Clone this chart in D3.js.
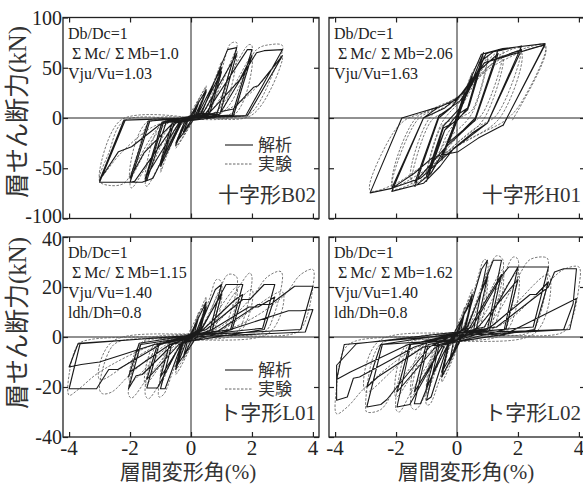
<!DOCTYPE html>
<html><head><meta charset="utf-8">
<script src="https://cdn.jsdelivr.net/npm/d3@7"></script>
<style>body{margin:0;background:#fff}svg{display:block}</style>
</head><body><svg id="c" width="583" height="484"></svg>
<script>
// ---------- data ----------
const xTicks = [-4, -2, 0, 2, 4];
const yTicksTop = [-100, -50, 0, 50, 100];
const yTicksBot = [-40, -20, 0, 20, 40];
const panelNames = ["十字形B02", "十字形H01", "ト字形L01", "ト字形L02"];
const noteDb = ["Db/Dc=1", "Db/Dc=1", "Db/Dc=1", "Db/Dc=1"];
const noteMcMb = ["1.0", "2.06", "1.15", "1.62"];
const noteVju = ["Vju/Vu=1.03", "Vju/Vu=1.63", "Vju/Vu=1.40", "Vju/Vu=1.40"];
const noteLdh = [null, null, "ldh/Dh=0.8", "ldh/Dh=0.8"];
const legendLabels = ["解析", "実験"];
const yTitle = "層せん断力(kN)";
const xTitle = "層間変形角(%)";

// analysis (solid) and experiment (dashed) hysteresis paths: [drift %, shear kN]
const b02Ana = [[0,0],[0.25,15],[0.08,1],[-0.25,-14],[-0.08,-1],
[0.5,28],[0.2,3],[-0.1,0],[-0.5,-27],[-0.2,-3],[0.1,0],
[0.5,26],[0.2,3],[-0.5,-25],[-0.2,-3],
[0.25,5],[1.0,50],[0.55,4],[0,1],[-0.3,-4],[-1.0,-48],[-0.55,-4],[0,-1],
[0.3,4],[1.0,46],[0.6,3],[-0.35,-4],[-1.0,-44],[-0.6,-3],
[0.35,5],[1.2,68],[1.5,70],[0.85,4],[0,1],[-0.35,-5],[-1.25,-60],[-1.5,-63],[-0.9,-4],[0,-1],
[0.4,5],[1.5,64],[0.95,4],[-0.4,-5],[-1.5,-60],[-0.95,-4],
[0.5,5],[1.85,68],[2.0,68],[1.35,3],[0,1],[-0.5,-5],[-1.85,-63],[-2.0,-64],[-1.35,-3],[0,0],
[0.6,5],[1.6,38],[2.0,62],[1.4,3],[-0.6,-5],[-1.55,-35],[-2.0,-60],[-1.4,-3],
[0.9,2],[2.15,65],[2.4,67],[3.0,68],[1.8,2.5],[0,1],[-0.8,-3],[-1.45,-62],[-1.6,-64],[-3.0,-64],[-2.16,-2.3],[0,0],
[1.39,9],[2.05,30.5],[2.2,32],[3.0,62],[1.85,2],[0,0],[-1.0,-6],[-1.95,-28.6],[-2.38,-33.5],[-3.0,-62],[-2.2,-2],[0,0]];
const b02Exp = [[0,0],[0.25,18],[0.05,1],[-0.25,-17],[-0.05,-1],
[0.5,32],[0.15,3],[-0.5,-30],[-0.15,-3],
[0.5,30],[0.15,2],[-0.5,-28],[-0.15,-2],
[0.3,6],[0.8,40],[1.0,56],[0.7,20],[0.45,3],[0,0],[-0.3,-6],[-0.8,-38],[-1.0,-54],[-0.7,-18],[-0.45,-3],[0,0],
[0.4,6],[1.0,50],[0.55,4],[-0.4,-6],[-1.0,-48],[-0.55,-4],
[0.4,6],[1.0,48],[1.3,74],[1.5,75],[1.2,40],[0.85,6],[0,0],[-0.4,-7],[-1.1,-50],[-1.45,-68],[-1.5,-66],[-1.2,-35],[-0.9,-5],[0,0],
[0.5,6],[1.5,68],[0.95,5],[-0.5,-6],[-1.5,-62],[-0.95,-5],
[0.6,6],[1.5,55],[1.9,73],[2.0,72],[1.7,35],[1.35,5],[0,0],[-0.6,-6],[-1.5,-50],[-1.95,-69.6],[-2.0,-67],[-1.7,-30],[-1.35,-4],[0,0],
[0.8,6],[2.0,62],[1.45,4],[-0.8,-6],[-2.0,-60],[-1.45,-4],
[1.0,5],[2.15,68],[2.6,73],[3.0,72],[2.7,45],[2.0,6],[1.5,1],[0,0],[-0.9,-5],[-1.8,-45],[-2.2,-65],[-2.7,-67],[-3.0,-63],[-2.7,-35],[-2.2,-3],[0,0],
[1.3,10],[2.2,32],[3.0,60],[2.0,3],[0,0],[-1.2,-8],[-2.3,-35],[-3.0,-60],[-2.3,-2],[0,0]];

const h01Ana = [[0,0],[0.25,25],[0,3],[-0.25,-22],[0,-3],
[0.5,42],[0.1,8],[-0.5,-40],[-0.1,-8],
[0.5,40],[0.1,8],[-0.5,-38],[-0.1,-8],
[0.87,65],[0.35,10],[0,3],[-0.4,-12],[-1.0,-63],[-0.45,-10],[0,-3],
[0.4,12],[0.87,60],[0.35,8],[-0.4,-12],[-1.0,-58],[-0.45,-8],
[0.1,10],[0.6,40],[0.95,64],[1.35,68],[0.6,0],[0.2,-12],[-0.3,-25],[-0.85,-55],[-1.38,-68],[-0.6,0],[-0.2,10],
[0.65,45],[1.35,64],[0.6,-2],[-0.4,-30],[-1.38,-64],[-0.6,2],
[0.1,17],[0.5,35],[0.85,58],[1.2,66],[2.12,71.6],[1.0,-5],[0.5,-15],[-0.1,-30],[-0.55,-48],[-1.1,-65],[-2.14,-73],[-1.1,0],[-0.4,10],
[0.2,25],[0.9,55],[2.12,68],[1.0,-5],[-0.2,-33],[-1.2,-60],[-2.14,-70],[-1.1,0],
[-0.61,10.8],[-0.07,17.4],[0.32,30],[0.8,63.4],[1.5,69],[2.89,74],[1.52,-7],[0.7,-20],[0.04,-33.5],[-0.77,-38.4],[-1.4,-55],[-2.14,-70],[-2.85,-74.5],[-1.81,0],[-1.16,5.9],[-0.61,10.8],[-0.07,17.4],[0.32,30],[0.9,55],[2.89,73],[1.5,-8]];
const h01Exp = [[0,0],[0.25,28],[0.05,4],[-0.25,-25],[-0.05,-4],
[0.5,45],[0.1,10],[-0.5,-43],[-0.1,-10],
[0.5,42],[0.1,9],[-0.5,-40],[-0.1,-9],
[0.5,45],[0.9,62],[1.0,64],[0.5,8],[0.1,0],[-0.3,-15],[-0.8,-52],[-1.0,-60],[-0.5,-8],[-0.1,0],
[0.4,25],[1.0,60],[0.5,5],[-0.4,-25],[-1.0,-57],[-0.5,-5],
[0.2,20],[0.8,50],[1.35,66],[1.5,67],[0.85,5],[0.3,-10],[-0.3,-30],[-0.9,-55],[-1.45,-66],[-1.5,-65],[-0.85,-3],[-0.3,8],
[0.4,30],[1.5,62],[0.9,0],[0,-25],[-1.5,-62],[-0.9,0],
[0,18],[0.5,35],[1.1,57],[2.0,70],[2.1,69],[1.3,3],[0.6,-10],[0,-25],[-0.6,-42],[-1.3,-62],[-2.0,-71],[-2.14,-70],[-1.3,-2],[-0.6,10],
[0.2,25],[1.0,50],[2.1,66],[1.4,0],[0,-28],[-1.2,-55],[-2.1,-67],[-1.4,-2],
[-0.6,12],[0,20],[0.5,35],[1.2,55],[2.3,70],[2.9,72.5],[2.1,15],[1.6,-2],[0.8,-15],[0,-28],[-1.0,-45],[-2.0,-65],[-2.85,-72],[-2.2,-20],[-1.7,-2],[-1.0,6],[-0.5,12],[0.2,25],[1.2,52],[2.9,70],[1.8,-3]];

const l01Ana = [[0,0],[0.25,8],[0.1,1],[-0.25,-8],[-0.1,-1],
[0.5,14],[0.25,2],[-0.1,0],[-0.5,-13],[-0.25,-2],[0.1,0],
[0.5,12],[0.28,1.5],[-0.5,-12],[-0.28,-1.5],
[0.25,3],[0.8,19],[1.0,21],[0.62,2.5],[0,0.5],[-0.3,-2.5],[-0.85,-20.7],[-1.0,-20.7],[-0.62,-2.5],[0,-0.5],
[0.3,2.5],[1.0,17],[0.68,2],[-0.3,-2.5],[-1.0,-16],[-0.68,-2],
[0.35,3],[1.15,21],[1.7,21],[1.3,3],[0,0.5],[-0.35,-3],[-1.1,-20.4],[-1.45,-20.4],[-1.05,-3],[0,-0.3],
[0.4,3],[1.45,15],[1.7,17],[1.35,3],[-0.4,-3],[-1.45,-17],[-1.1,-3],
[0.5,3],[1.7,15],[1.93,15],[2.4,21],[2.75,21],[2.35,3.5],[0,0.5],[-0.6,-3],[-1.6,-15],[-1.8,-15.5],[-2.05,-20.7],[-1.65,-3],[0,0],
[0.7,3],[1.9,12],[2.2,12],[2.75,16],[2.4,3],[-0.7,-3],[-2.0,-14],[-2.05,-16],[-1.7,-2.5],
[0.9,2.5],[2.2,13],[2.6,13],[3.4,20.3],[4.0,20.3],[3.6,3],[0,0.7],[-1.0,-3],[-2.4,-13],[-2.7,-13],[-3.1,-20.7],[-4.0,-20.7],[-3.64,-2.7],[0,0.7],
[1.3,3],[3.2,10.5],[3.6,10.5],[4.0,11],[3.75,2],[0,0],[-1.2,-3],[-3.0,-10],[-3.6,-11],[-4.0,-12],[-3.7,-2.5],[0,0.5]];
const l01Exp = [[0,0],[0.25,10],[0.05,1],[-0.25,-9],[-0.05,-1],
[0.5,16],[0.2,2],[-0.5,-15],[-0.2,-2],
[0.5,14],[0.2,1.5],[-0.5,-13],[-0.2,-1.5],
[0.2,3],[0.6,15],[0.84,23],[1.0,22],[0.8,8],[0.6,2],[0,0.3],[-0.25,-3],[-0.6,-14],[-0.9,-23],[-1.05,-24],[-0.85,-8],[-0.6,-2],[0,-0.3],
[0.3,3],[1.0,19],[0.7,2],[-0.3,-3],[-1.0,-19],[-0.7,-2],
[0.3,3],[0.9,18],[1.22,25],[1.5,24],[1.25,8],[1.0,2],[0,0.3],[-0.35,-3],[-1.0,-18],[-1.4,-24.7],[-1.5,-23],[-1.3,-8],[-1.05,-2],[0,0],
[0.4,3],[1.5,20],[1.1,2],[-0.4,-3],[-1.5,-19],[-1.15,-2],
[0.5,3],[1.4,17],[1.93,25.6],[2.0,24],[1.75,8],[1.5,2],[0,0.3],[-0.5,-3],[-1.4,-16],[-1.95,-24.4],[-2.05,-23],[-1.8,-8],[-1.55,-2],[0,0],
[0.6,3],[2.0,19],[1.6,2],[-0.6,-3],[-2.0,-18],[-1.6,-2],
[0.8,3],[2.0,16],[2.5,24],[2.92,26.3],[3.0,25],[2.7,8],[2.4,2],[0,0.5],[-0.8,-3],[-2.0,-15],[-2.6,-22],[-2.9,-22.7],[-3.0,-21],[-2.7,-6],[-2.4,-2],[0,0],
[1.0,3],[3.0,18],[2.6,2],[-1.0,-3],[-3.0,-17],[-2.6,-2],
[1.2,3],[3.0,16],[3.6,25],[4.0,27],[4.0,20],[3.7,5],[3.4,1.5],[0,0.3],[-1.2,-3],[-3.0,-14],[-3.7,-21],[-4.0,-23.3],[-4.0,-15],[-3.7,-3],[-3.3,-1],[0,0]];

const l02Ana = [[0,0],[0.25,10],[0.1,1],[-0.25,-10],[-0.1,-1],
[0.5,17],[0.25,2],[-0.5,-16],[-0.25,-2],
[0.5,15],[0.25,2],[-0.5,-14],[-0.25,-2],
[0.25,4],[0.8,27],[1.0,30.7],[0.55,3],[0,1],[-0.3,-3],[-0.85,-24],[-1.0,-25.3],[-0.58,-3],[0,-1],
[0.3,3],[1.0,24],[0.62,2.5],[-0.3,-3],[-1.0,-20],[-0.62,-2.5],
[0.35,4],[1.19,30.7],[1.46,30.7],[1.0,3],[0,1.5],[-0.4,-3],[-1.2,-26.7],[-1.4,-26.7],[-0.95,-3],[0,-1],
[0.4,3.5],[1.46,25],[1.05,2.5],[-0.45,-3],[-1.4,-22],[-1.0,-2.5],
[0.5,4],[1.5,25],[1.7,28],[2.0,28],[1.55,3],[0,1.5],[-0.5,-4],[-1.55,-27],[-1.97,-28],[-1.52,-3],[0,-1],
[0.7,4],[2.0,23],[1.6,3],[-0.7,-4],[-1.97,-22],[-1.55,-3],
[0.9,4],[2.0,28],[3.0,28],[2.5,4],[0,1.5],[-0.9,-4],[-2.3,-25],[-2.5,-27],[-2.96,-28],[-2.45,-3],[0,-1],
[1.1,4],[2.4,17],[2.6,17],[3.0,22],[2.55,3],[-1.1,-4],[-2.6,-16],[-2.96,-20],[-2.5,-3],
[1.3,4],[3.0,20],[3.2,26],[3.5,27.3],[3.92,27.3],[3.81,13.3],[3.5,3],[0,1.5],[-1.4,-4],[-3.2,-16],[-3.4,-16.5],[-3.6,-24],[-3.95,-25.3],[-3.95,-11.3],[-3.3,-2.7],[0,2],
[1.52,0.7],[3.92,15.4],[3.7,3],[0,0.5],[-1.6,-3],[-3.5,-14],[-3.95,-17],[-3.7,-3],[0,1]];
const l02Exp = [[0,0],[0.25,12],[0.05,1],[-0.25,-11],[-0.05,-1],
[0.5,19],[0.2,2],[-0.5,-18],[-0.2,-2],
[0.5,17],[0.2,2],[-0.5,-16],[-0.2,-2],
[0.2,4],[0.6,20],[0.9,31],[1.0,30],[0.8,10],[0.55,2],[0,0.5],[-0.25,-4],[-0.6,-18],[-0.9,-27],[-1.0,-27],[-0.8,-8],[-0.55,-2],[0,-0.5],
[0.3,4],[1.0,26],[0.65,2],[-0.3,-4],[-1.0,-23],[-0.65,-2],
[0.35,4],[1.0,26],[1.3,32.5],[1.5,31],[1.25,10],[1.0,2],[0,0.5],[-0.4,-4],[-1.0,-22],[-1.35,-29],[-1.5,-28],[-1.25,-8],[-1.0,-2],[0,-0.5],
[0.45,4],[1.5,27],[1.1,2],[-0.45,-4],[-1.5,-24],[-1.1,-2],
[0.55,4],[1.5,24],[1.85,32],[2.0,31],[1.75,10],[1.5,2],[0,0.5],[-0.55,-4],[-1.5,-22],[-1.9,-30],[-2.0,-29],[-1.75,-8],[-1.5,-2],[0,-0.5],
[0.7,4],[2.0,26],[1.6,2],[-0.7,-4],[-2.0,-24],[-1.6,-2],
[0.9,4],[2.0,24],[2.4,31],[2.94,31.7],[3.0,30],[2.75,10],[2.4,2],[0,0.5],[-0.9,-4],[-2.0,-20],[-2.5,-29],[-2.96,-30],[-3.0,-28],[-2.75,-8],[-2.4,-2],[0,-0.5],
[1.1,4],[3.0,25],[2.6,2],[-1.1,-4],[-3.0,-22],[-2.6,-2],
[1.3,4],[3.0,22],[3.5,27],[4.0,28],[4.0,20],[3.7,5],[3.4,1.5],[0,0.5],[-1.3,-4],[-3.0,-20],[-3.6,-28],[-3.95,-30.7],[-3.95,-20],[-3.7,-5],[-3.3,-1.5],[0,0]];

const anaSeries = [b02Ana, h01Ana, l01Ana, l02Ana];
const expSeries = [b02Exp, h01Exp, l01Exp, l02Exp];

// ---------- drawing ----------
const svg = d3.select("#c");
const SERIF = "Liberation Serif, Tinos, DejaVu Serif, serif";
const JP = "Liberation Serif, Noto Sans CJK JP, serif";
const ink = "#222";

const cols = [[63, 319], [329, 585]];
const rows = [[17.5, 218.5], [237, 437]];
const xDomain = [-4.2, 4.2];
const yDomains = [[-100, 100], [-40, 40]];
const yTickSets = [yTicksTop, yTicksBot];

panelNames.forEach((name, i) => {
  const r = Math.floor(i / 2), c = i % 2;
  const x = d3.scaleLinear().domain(xDomain).range(cols[c]);
  const y = d3.scaleLinear().domain(yDomains[r]).range([rows[r][1], rows[r][0]]);
  const g = svg.append("g");
  const cid = "clip" + i;
  svg.append("clipPath").attr("id", cid).append("rect")
    .attr("x", cols[c][0]).attr("y", rows[r][0])
    .attr("width", cols[c][1] - cols[c][0]).attr("height", rows[r][1] - rows[r][0]);

  g.append("line").attr("x1", x(xDomain[0])).attr("x2", x(xDomain[1]))
    .attr("y1", y(0)).attr("y2", y(0)).attr("stroke", ink).attr("stroke-width", 1);
  g.append("line").attr("x1", x(0)).attr("x2", x(0))
    .attr("y1", rows[r][0]).attr("y2", rows[r][1]).attr("stroke", ink).attr("stroke-width", 1);

  const lineGen = d3.line().x(d => x(d[0])).y(d => y(d[1]));
  const curveGen = d3.line().x(d => x(d[0])).y(d => y(d[1])).curve(d3.curveCatmullRom.alpha(0.5));
  const pg = g.append("g").attr("clip-path", `url(#${cid})`);
  pg.append("path").datum(expSeries[i]).attr("d", curveGen).attr("fill", "none")
    .attr("stroke", "#555").attr("stroke-width", 0.8).attr("stroke-dasharray", "2.5,1.5");
  pg.append("path").datum(anaSeries[i]).attr("d", lineGen).attr("fill", "none")
    .attr("stroke", "#1a1a1a").attr("stroke-width", 1.1).attr("stroke-linejoin", "round");

  g.append("rect").attr("x", cols[c][0]).attr("y", rows[r][0])
    .attr("width", cols[c][1] - cols[c][0]).attr("height", rows[r][1] - rows[r][0])
    .attr("fill", "none").attr("stroke", ink).attr("stroke-width", 1.3);

  const tl = 5;
  const axB = g.append("g").attr("transform", `translate(0,${rows[r][1]})`)
    .call(d3.axisTop(x).tickValues(xTicks).tickSize(tl).tickFormat(""));
  const axT = g.append("g").attr("transform", `translate(0,${rows[r][0]})`)
    .call(d3.axisBottom(x).tickValues(xTicks).tickSize(tl).tickFormat(""));
  const axL = g.append("g").attr("transform", `translate(${cols[c][0]},0)`)
    .call(d3.axisRight(y).tickValues(yTickSets[r]).tickSize(tl).tickFormat(""));
  const axR = g.append("g").attr("transform", `translate(${cols[c][1]},0)`)
    .call(d3.axisLeft(y).tickValues(yTickSets[r]).tickSize(tl).tickFormat(""));
  [axB, axT, axL, axR].forEach(a => {
    a.select(".domain").remove();
    a.selectAll(".tick text").remove();
    a.selectAll(".tick line").attr("stroke", ink).attr("stroke-width", 1.2);
  });
  if (r === 1) {
    xTicks.forEach(t => {
      g.append("text").attr("x", x(t)).attr("y", 455).attr("text-anchor", "middle")
        .style("font-family", SERIF).attr("font-size", 21).attr("fill", ink).text(t);
    });
  }
  if (c === 0) {
    const ymax = yDomains[r][1], ymin = yDomains[r][0];
    yTickSets[r].forEach(t => {
      const off = (r === 0 && t === ymin) ? 4.5 : (r === 1 && t === ymax) ? 9 : 7;
      g.append("text").attr("x", cols[0][0] - 1).attr("y", y(t) + off).attr("text-anchor", "end")
        .style("font-family", SERIF).attr("font-size", 20).attr("fill", ink).text(t);
    });
  }

  const nx = cols[c][0] + 5, ny = rows[r][0] + 21;
  const nt = g.append("g").style("font-family", SERIF).attr("font-size", 16).attr("fill", ink);
  nt.append("text").attr("x", nx).attr("y", ny).text(noteDb[i]);
  const t2 = nt.append("text").attr("x", nx + 4).attr("y", ny + 20);
  t2.append("tspan").text("Σ");
  t2.append("tspan").attr("dx", 3).text("Mc/");
  t2.append("tspan").attr("dx", 5).text("Σ");
  t2.append("tspan").attr("dx", 3).text("Mb=" + noteMcMb[i]);
  nt.append("text").attr("x", nx).attr("y", ny + 40).text(noteVju[i]);
  if (noteLdh[i]) nt.append("text").attr("x", nx).attr("y", ny + 60).text(noteLdh[i]);

  if (c === 0) {
    const lx = cols[0][0] + 162, ly = r === 0 ? 145 : 370;
    [0, 1].forEach(k => {
      g.append("line").attr("x1", lx).attr("x2", lx + 28).attr("y1", ly + k * 19).attr("y2", ly + k * 19)
        .attr("stroke", k === 0 ? "#1a1a1a" : "#555").attr("stroke-width", k === 0 ? 1.1 : 0.9)
        .attr("stroke-dasharray", k === 0 ? null : "2.5,1.5");
      g.append("text").attr("x", lx + 33).attr("y", ly + k * 19 + 6).style("font-family", JP)
        .attr("font-size", 17).attr("fill", "#333").text(legendLabels[k]);
    });
  }
  g.append("text").attr("x", cols[c][1] - (c === 1 ? 4 : 3)).attr("y", rows[r][1] - 17)
    .attr("text-anchor", "end").style("font-family", JP).attr("font-size", 21).attr("fill", "#333").text(name);
});

[112, 323].forEach(cy => {
  svg.append("text").attr("transform", `translate(26,${cy}) rotate(-90)`).attr("text-anchor", "middle")
    .style("font-family", JP).attr("font-size", 25).attr("fill", "#333").text(yTitle);
});
[188, 466].forEach(cx => {
  svg.append("text").attr("x", cx).attr("y", 479).attr("text-anchor", "middle")
    .style("font-family", JP).attr("font-size", 21).attr("fill", "#333").text(xTitle);
});
</script></body></html>
